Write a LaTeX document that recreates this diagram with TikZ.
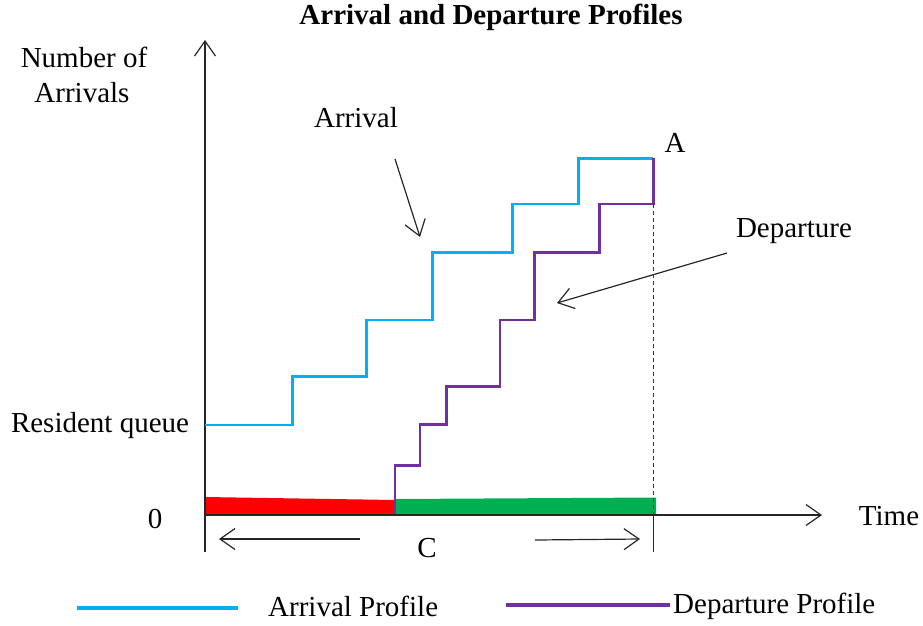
\documentclass[tikz,border=0pt]{standalone}
\usepackage{fontspec}
\setmainfont{Liberation Serif}
\usetikzlibrary{arrows.meta}

\definecolor{arrblue}{HTML}{00B0F0}
\definecolor{deppurple}{HTML}{7030A0}
\definecolor{barred}{HTML}{FF0000}
\definecolor{bargreen}{HTML}{00B050}

\tikzset{
  axisline/.style={line width=1.2pt, draw=black!85},
  barb/.style={-{Straight Barb[length=15pt,width=21pt,line width=1.2pt]}},
  arrprof/.style={line width=2.8pt, draw=arrblue},
  depprof/.style={line width=2.8pt, draw=deppurple},
  legline/.style={line width=4pt},
  lbl/.style={font=\fontsize{29}{33}\selectfont, anchor=base, inner sep=0pt},
  ttl/.style={font=\fontsize{29}{33}\selectfont\bfseries, anchor=base, inner sep=0pt},
}

\begin{document}
\begin{tikzpicture}[x=1pt, y=-1pt]
  \useasboundingbox (0,0) rectangle (923,625);

  % title
  \node[ttl] (title) at (491,24) {Arrival and Departure Profiles};

  % axes
  \coordinate (yTop) at (205,40);
  \coordinate (yBot) at (205,552);
  \coordinate (xLeft) at (205,515);
  \coordinate (xRight) at (822,515);

  % service period bars (waiting in red, serving in green)
  \fill[barred] (205,497) -- (395,500) -- (395,516) -- (205,514) -- cycle;
  \fill[bargreen] (395,499) -- (656,497.5) -- (656,514) -- (395,515) -- cycle;

  \draw[axisline, barb] (yBot) -- (yTop);
  \draw[axisline, barb] (xLeft) -- (xRight);

  % arrival profile
  \coordinate (a0) at (205,425);
  \coordinate (a1) at (292.7,425);
  \coordinate (a2) at (292.7,376.7);
  \coordinate (a3) at (366.7,376.7);
  \coordinate (a4) at (366.7,320);
  \coordinate (a5) at (432.3,320);
  \coordinate (a6) at (432.3,252.3);
  \coordinate (a7) at (512.3,252.3);
  \coordinate (a8) at (512.3,204);
  \coordinate (a9) at (578.3,204);
  \coordinate (a10) at (578.3,158.3);
  \coordinate (A) at (653.3,158.3);
  \draw[arrprof] (a0) -- (a1) -- (a2) -- (a3) -- (a4) -- (a5) -- (a6)
    -- (a7) -- (a8) -- (a9) -- (a10) -- (A);

  % departure profile
  \coordinate (d1) at (653.3,204);
  \coordinate (d2) at (599.3,204);
  \coordinate (d3) at (599.3,252.3);
  \coordinate (d4) at (534.3,252.3);
  \coordinate (d5) at (534.3,320);
  \coordinate (d6) at (500,320);
  \coordinate (d7) at (500,386.7);
  \coordinate (d8) at (446.7,386.7);
  \coordinate (d9) at (446.7,424.3);
  \coordinate (d10) at (420,424.3);
  \coordinate (d11) at (420,465.7);
  \coordinate (d12) at (395,465.7);
  \coordinate (d13) at (395,514);
  \draw[depprof] (A) -- (d1) -- (d2) -- (d3) -- (d4) -- (d5) -- (d6)
    -- (d7) -- (d8) -- (d9) -- (d10) -- (d11) -- (d12) -- (d13);

  % end of the cycle
  \coordinate (cAxis) at (653.3,515);
  \coordinate (cBot) at (653.3,552);
  \draw[line width=1pt, draw=black!80, dash pattern=on 4pt off 3pt] (d1) -- (cAxis);
  \draw[axisline] (cAxis) -- (cBot);

  % axis labels
  \node[lbl] (ylab1) at (84,67) {Number of};
  \node[lbl] (ylab2) at (82,102) {Arrivals};
  \node[lbl] (resq) at (100,432) {Resident queue};
  \node[lbl] (zero) at (155,528) {0};
  \node[lbl] (time) at (889,525) {Time};
  \node[lbl] (Alab) at (675,152) {A};

  % curve labels with pointers
  \node[lbl] (arrlab) at (356,127) {Arrival};
  \coordinate (arrFrom) at (395,159);
  \coordinate (arrTo) at (420,237);
  \draw[axisline, barb] (arrFrom) -- (arrTo);

  \node[lbl] (deplab) at (794,237) {Departure};
  \coordinate (depFrom) at (727,253);
  \coordinate (depTo) at (557,303);
  \draw[axisline, barb] (depFrom) -- (depTo);

  % cycle length C
  \node[lbl] (C) at (427,557) {C};
  \coordinate (cl1) at (360,539);
  \coordinate (cl2) at (219,539);
  \coordinate (cr1) at (535,540);
  \coordinate (cr2) at (640,539);
  \draw[axisline, barb] (cl1) -- (cl2);
  \draw[axisline, barb] (cr1) -- (cr2);

  % legend
  \coordinate (lb1) at (77,608);
  \coordinate (lb2) at (238,608);
  \draw[legline, draw=arrblue] (lb1) -- (lb2);
  \node[lbl, anchor=base west] (legArr) at (268,616) {Arrival Profile};
  \coordinate (lp1) at (506,605);
  \coordinate (lp2) at (670,605);
  \draw[legline, draw=deppurple] (lp1) -- (lp2);
  \node[lbl, anchor=base west] (legDep) at (673,613) {Departure Profile};
\end{tikzpicture}
\end{document}
